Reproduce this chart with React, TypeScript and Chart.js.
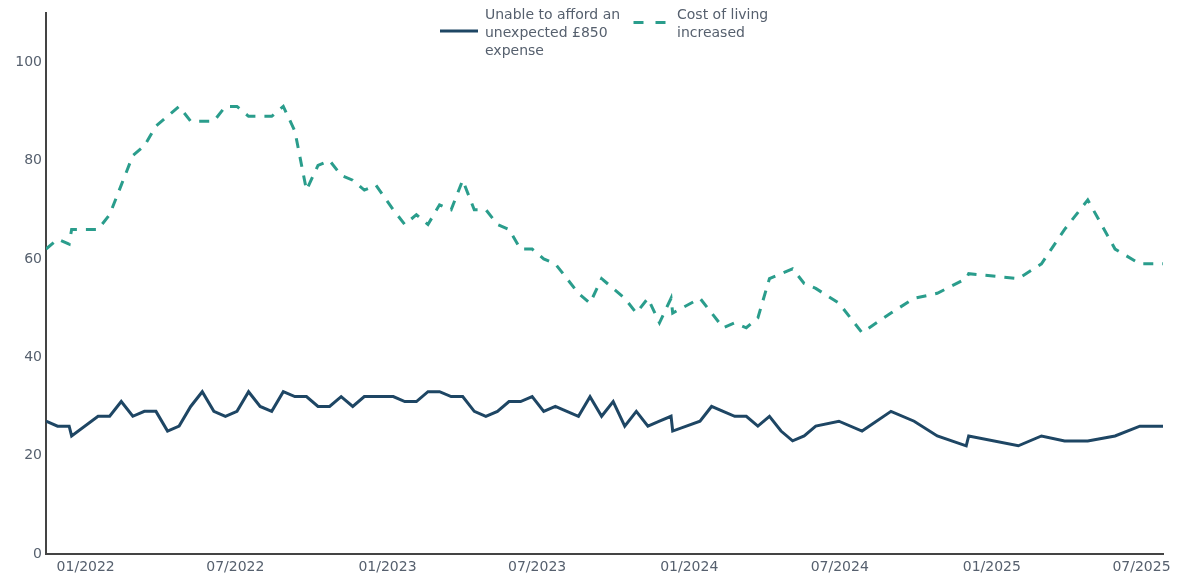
import React, { useEffect, useRef } from "react";
import { Chart, registerables } from "chart.js";

Chart.register(...registerables);

// Survey period dates (end of fieldwork)
const dates = [
  "2021-11-14", "2021-11-28", "2021-12-12", "2021-12-15", "2022-01-16", "2022-01-30",
  "2022-02-13", "2022-02-27", "2022-03-13", "2022-03-27", "2022-04-10", "2022-04-24",
  "2022-05-08", "2022-05-22", "2022-06-05", "2022-06-19", "2022-07-03", "2022-07-17",
  "2022-07-31", "2022-08-14", "2022-08-28", "2022-09-11", "2022-09-25", "2022-10-09",
  "2022-10-23", "2022-11-06", "2022-11-20", "2022-12-04", "2022-12-18", "2023-01-08",
  "2023-01-22", "2023-02-05", "2023-02-19", "2023-03-05", "2023-03-19", "2023-04-02",
  "2023-04-16", "2023-04-30", "2023-05-14", "2023-05-28", "2023-06-11", "2023-06-25",
  "2023-07-09", "2023-07-23", "2023-08-06", "2023-08-20", "2023-09-03", "2023-09-17",
  "2023-10-01", "2023-10-15", "2023-10-29", "2023-11-12", "2023-11-26", "2023-12-10",
  "2023-12-12", "2024-01-14", "2024-01-28", "2024-02-11", "2024-02-25", "2024-03-10",
  "2024-03-24", "2024-04-07", "2024-04-21", "2024-05-05", "2024-05-19", "2024-06-02",
  "2024-06-30", "2024-07-28", "2024-09-01", "2024-09-29", "2024-10-27", "2024-12-01",
  "2024-12-04", "2025-02-02", "2025-03-02", "2025-03-30", "2025-04-27", "2025-05-30",
  "2025-06-29", "2025-07-27",
];

const unableToAfford = [
  27, 26, 26, 24, 28, 28, 31, 28, 29, 29, 25, 26,
  30, 33, 29, 28, 29, 33, 30, 29, 33, 32, 32, 30,
  30, 32, 30, 32, 32, 32, 31, 31, 33, 33, 32, 32,
  29, 28, 29, 31, 31, 32, 29, 30, 29, 28, 32, 28,
  31, 26, 29, 26, 27, 28, 25, 27, 30, 29, 28, 28,
  26, 28, 25, 23, 24, 26, 27, 25, 29, 27, 24, 22,
  24, 22, 24, 23, 23, 24, 26, 26,
];

const costOfLiving = [
  62, 64, 63, 66, 66, 69, 75, 81, 83, 87, 89, 91,
  88, 88, 88, 91, 91, 89, 89, 89, 91, 86, 74, 79,
  80, 77, 76, 74, 75, 70, 67, 69, 67, 71, 70, 76,
  70, 70, 67, 66, 62, 62, 60, 59, 56, 53, 51, 56,
  54, 52, 49, 52, 47, 52, 49, 52, 49, 46, 47, 46,
  48, 56, 57, 58, 55, 54, 51, 45, 49, 52, 53, 56,
  57, 56, 59, 66, 72, 62, 59, 59,
];

const seriesNames = [
  ["Unable to afford an", "unexpected £850", "expense"],
  ["Cost of living", "increased"],
];

const xTickDates = [
  "2022-01-01", "2022-07-01", "2023-01-01", "2023-07-01",
  "2024-01-01", "2024-07-01", "2025-01-01", "2025-07-01",
];
const yTickValues = [0, 20, 40, 60, 80, 100];

const SOLID = "#1e4664";
const DASHED = "#2a9d8c";
const TEXT = "#56606e";
const AXIS = "#444444";
const FONT = '"DejaVu Sans", Verdana, sans-serif';

const DAY = 86400000;
const toDay = (s: string) =>
  Date.UTC(+s.slice(0, 4), +s.slice(5, 7) - 1, +s.slice(8, 10)) / DAY;
const fmtTick = (d: number) => {
  const dt = new Date(Math.round(d) * DAY);
  return String(dt.getUTCMonth() + 1).padStart(2, "0") + "/" + dt.getUTCFullYear();
};

const legendPlugin = {
  id: "customLegend",
  afterDraw(chart: any) {
    const ctx = chart.ctx as CanvasRenderingContext2D;
    ctx.save();
    ctx.font = `14px ${FONT}`;
    ctx.fillStyle = TEXT;
    ctx.textBaseline = "alphabetic";
    ctx.textAlign = "left";
    // item 1
    ctx.lineWidth = 3;
    ctx.strokeStyle = SOLID;
    ctx.setLineDash([]);
    ctx.beginPath();
    ctx.moveTo(440, 31);
    ctx.lineTo(478, 31);
    ctx.stroke();
    seriesNames[0].forEach((t, i) => ctx.fillText(t, 485, 19 + 18 * i));
    // item 2
    ctx.strokeStyle = DASHED;
    ctx.setLineDash([10, 12]);
    ctx.beginPath();
    ctx.moveTo(633.5, 22.5);
    ctx.lineTo(667, 22.5);
    ctx.stroke();
    ctx.setLineDash([]);
    seriesNames[1].forEach((t, i) => ctx.fillText(t, 677, 19 + 18 * i));
    ctx.restore();
  },
};

export default function App() {
  const canvasRef = useRef<HTMLCanvasElement | null>(null);

  useEffect(() => {
    const canvas = canvasRef.current;
    if (!canvas) return;
    const xs = dates.map(toDay);
    const chart = new Chart(canvas, {
      type: "line",
      data: {
        datasets: [
          {
            label: seriesNames[0].join(" "),
            data: xs.map((x, i) => ({ x, y: unableToAfford[i] })),
            borderColor: SOLID,
            backgroundColor: SOLID,
            borderWidth: 3,
            pointRadius: 0,
            tension: 0,
            fill: false,
          },
          {
            label: seriesNames[1].join(" "),
            data: xs.map((x, i) => ({ x, y: costOfLiving[i] })),
            borderColor: DASHED,
            backgroundColor: DASHED,
            borderWidth: 3,
            borderDash: [10, 9],
            pointRadius: 0,
            tension: 0,
            fill: false,
          },
        ],
      },
      options: {
        responsive: false,
        animation: false,
        layout: { padding: { top: 13, right: 14, left: 0, bottom: 0 } },
        plugins: {
          legend: { display: false },
          tooltip: { enabled: false },
        },
        scales: {
          x: {
            type: "linear",
            min: xs[0],
            max: xs[xs.length - 1],
            grid: { display: false, drawTicks: false, tickLength: 0 },
            border: { display: true, color: AXIS, width: 2 },
            ticks: {
              autoSkip: false,
              maxRotation: 0,
              padding: 5,
              color: TEXT,
              font: { family: FONT, size: 14 },
              callback: (v: any) => fmtTick(Number(v)),
            },
            afterBuildTicks: (s: any) => {
              s.ticks = xTickDates.map((d) => ({ value: toDay(d) }));
            },
            afterFit: (s: any) => {
              s.height = 23;
            },
          },
          y: {
            type: "linear",
            min: 0,
            max: 110,
            grid: { display: false, drawTicks: false, tickLength: 0 },
            border: { display: true, color: AXIS, width: 2 },
            ticks: {
              padding: 4,
              color: TEXT,
              font: { family: FONT, size: 14 },
            },
            afterBuildTicks: (s: any) => {
              s.ticks = yTickValues.map((v) => ({ value: v }));
            },
            afterFit: (s: any) => {
              s.width = 46;
            },
          },
        },
      },
      plugins: [legendPlugin],
    });
    return () => chart.destroy();
  }, []);

  return (
    <div style={{ position: "fixed", left: 0, top: 0, width: 1177, height: 577, background: "#fff" }}>
      <canvas ref={canvasRef} width={1177} height={577} />
    </div>
  );
}
